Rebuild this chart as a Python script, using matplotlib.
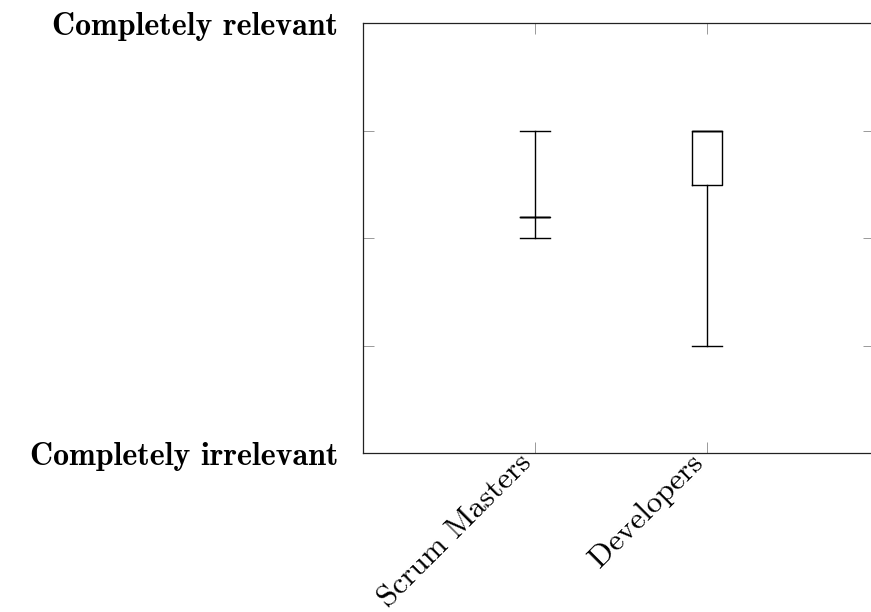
import matplotlib
matplotlib.use("Agg")
import matplotlib.pyplot as plt
from matplotlib.transforms import ScaledTranslation

# ---- data -------------------------------------------------------------------
groups = ["Scrum Masters", "Developers"]
whisker_low = [3.0, 2.0]
lower_quartile = [3.2, 3.5]
median = [3.2, 4.0]
upper_quartile = [3.2, 4.0]
whisker_high = [4.0, 4.0]
ytick_values = [1, 2, 3, 4, 5]
ytick_labels = ["Completely irrelevant", "", "", "", "Completely relevant"]

W, H = 871, 612
fig = plt.figure(figsize=(W / 100, H / 100), dpi=100)
left, right, top, bottom = 363, 874, 23.3, 453.3
ax = fig.add_axes([left / W, 1 - bottom / H, (right - left) / W, (bottom - top) / H])

stats = [dict(label=g, whislo=lo, q1=q1, med=m, q3=q3, whishi=hi)
         for g, lo, q1, m, q3, hi in zip(groups, whisker_low, lower_quartile,
                                          median, upper_quartile, whisker_high)]
pos = list(range(1, len(groups) + 1))
lw = 1.0
ax.bxp(stats, positions=pos, widths=0.175, capwidths=0.175, showfliers=False,
       boxprops=dict(color="black", linewidth=lw),
       whiskerprops=dict(color="black", linewidth=lw),
       capprops=dict(color="black", linewidth=lw),
       medianprops=dict(color="black", linewidth=lw))

ax.set_xlim(0, 2.97)
ax.set_ylim(1, 5)
ax.set_xticks(pos)
ax.set_xticklabels(groups, rotation=45, ha="right", va="center_baseline",
                   rotation_mode="anchor", family="cmr10", fontsize=22.5)
ax.set_yticks(ytick_values)
ax.set_yticklabels(ytick_labels, family="cmb10", fontsize=23)
ax.tick_params(axis="both", direction="in", length=8, width=0.7, color="#999999",
               top=True, right=True)
ax.tick_params(axis="x", pad=-5)
ax.tick_params(axis="y", pad=18)
# slide the rotated labels down-left along their own direction (pgfplots anchor)
shift = ScaledTranslation(-0.10, -0.10, fig.dpi_scale_trans)
for lab in ax.get_xticklabels():
    lab.set_transform(lab.get_transform() + shift)
for s in ax.spines.values():
    s.set_linewidth(0.9)
    s.set_color("#222222")

fig.savefig("out.png", dpi=100)
